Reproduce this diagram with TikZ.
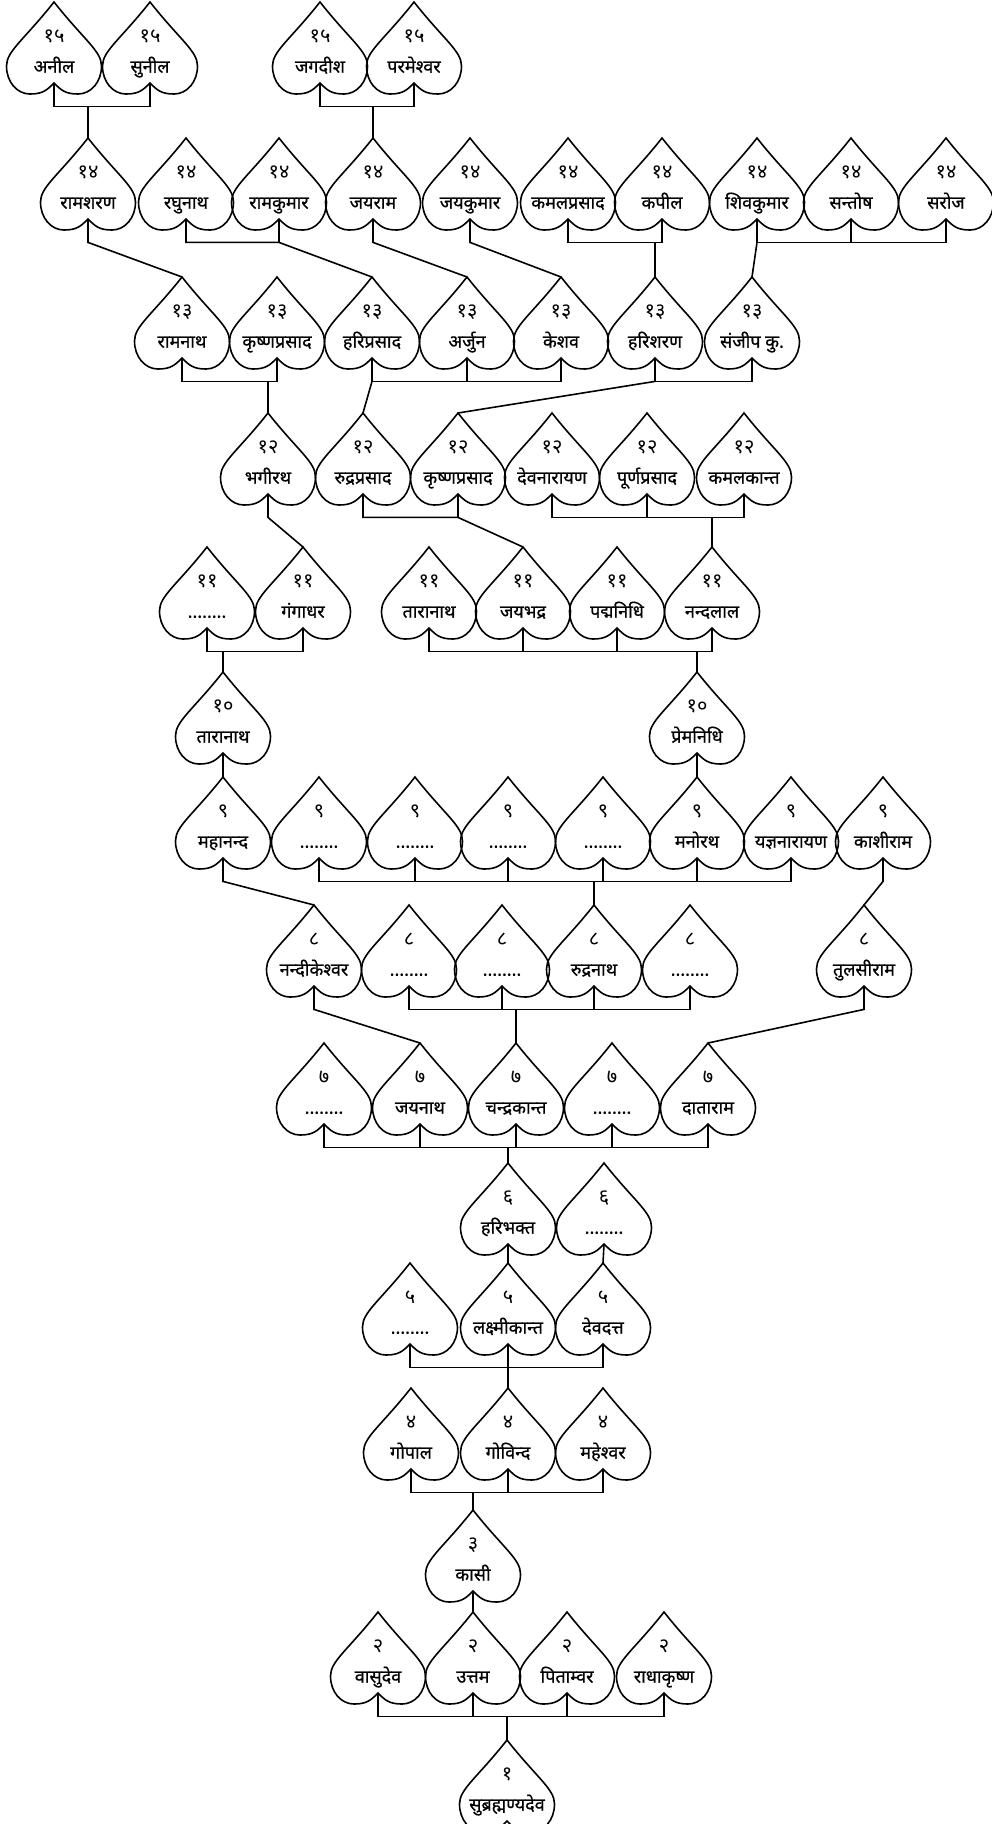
\documentclass[tikz,border=0pt]{standalone}
\usepackage{fontspec}
\newfontfamily\deva[Script=Devanagari, FakeBold=0.6]{Noto Sans}
\newfontfamily\devn[Script=Devanagari]{Noto Sans}
\usetikzlibrary{calc}
\newcommand\gen[1]{{\devn\fontsize{20}{20}\selectfont#1}}
\newcommand\blank{........}
\tikzset{link/.style={line width=1.6pt},
  leaf/.style={minimum width=95pt, minimum height=81pt, inner sep=0pt, anchor=north,
    align=center, font=\deva\fontsize{18}{30}\selectfont, text height=60pt, text depth=0pt,
    append after command={\pgfextra{\pgfinterruptpath
      \draw[link] (\tikzlastnode.north)
        .. controls +(-30,38) and +(0,-15) .. ++(-47.5,64)
        .. controls +(0,16) and +(-13,0) .. ++(23.5,28)
        .. controls +(13,0) and +(-7,7) .. ++(24,-11)
        .. controls +(7,7) and +(-13,0) .. ++(24,11)
        .. controls +(13,0) and +(0,16) .. ++(23.5,-28)
        .. controls +(0,-15) and +(30,38) .. ++(-47.5,-64) -- cycle;
      \endpgfinterruptpath}}}}

\begin{document}
\begin{tikzpicture}[x=1pt, y=-1pt]
  \useasboundingbox (0,0) rectangle (992,1824);
  % generations, top to bottom
  \foreach \x/\n/\t in {54/anil/अनील, 150/sunil/सुनील, 320/jagdish/जगदीश, 414/parmesh/परमेश्वर}
    \node[leaf] (\n) at (\x,2) {\gen{१५}\\\t};
  \foreach \x/\n/\t in {88/ramshar/रामशरण, 186/raghu/रघुनाथ, 279/ramkum/रामकुमार, 373/jayram/जयराम,
      470/jaykum/जयकुमार, 568/kamalpr/कमलप्रसाद, 662/kapil/कपील, 757/shivkum/शिवकुमार,
      851/santosh/सन्तोष, 946/saroj/सरोज}
    \node[leaf] (\n) at (\x,138) {\gen{१४}\\\t};
  \foreach \x/\n/\t in {182/ramnath/रामनाथ, 277/krishpa/कृष्णप्रसाद, 372/haripr/हरिप्रसाद,
      467/arjun/अर्जुन, 561/keshav/केशव, 655/harishar/हरिशरण, 752/sanjeep/संजीप कु.}
    \node[leaf] (\n) at (\x,277) {\gen{१३}\\\t};
  \foreach \x/\n/\t in {268/bhagi/भगीरथ, 363/rudrapr/रुद्रप्रसाद, 458/krishpb/कृष्णप्रसाद,
      552/devnar/देवनारायण, 647/purnapr/पूर्णप्रसाद, 744/kamalk/कमलकान्त}
    \node[leaf] (\n) at (\x,413) {\gen{१२}\\\t};
  \foreach \x/\n/\t in {207/dotsk/\blank, 303/ganga/गंगाधर, 429/taraa/तारानाथ, 523/jaybh/जयभद्र,
      617/padma/पद्मनिधि, 712/nand/नन्दलाल}
    \node[leaf] (\n) at (\x,547) {\gen{११}\\\t};
  \foreach \x/\n/\t in {223/tarab/तारानाथ, 697/prem/प्रेमनिधि}
    \node[leaf] (\n) at (\x,672) {\gen{१०}\\\t};
  \foreach \x/\n/\t in {223/mahan/महानन्द, 319/dotsia/\blank, 415/dotsib/\blank, 508/dotsic/\blank,
      603/dotsid/\blank, 697/manor/मनोरथ, 791/yagya/यज्ञनारायण, 883/kashi/काशीराम}
    \node[leaf] (\n) at (\x,777) {\gen{९}\\\t};
  \foreach \x/\n/\t in {314/nandik/नन्दीकेश्वर, 409/dotsha/\blank, 502/dotshb/\blank,
      594/rudran/रुद्रनाथ, 690/dotshc/\blank, 864/tulsi/तुलसीराम}
    \node[leaf] (\n) at (\x,905) {\gen{८}\\\t};
  \foreach \x/\n/\t in {324/dotsga/\blank, 420/jaynath/जयनाथ, 516/chandra/चन्द्रकान्त,
      612/dotsgb/\blank, 708/data/दाताराम}
    \node[leaf] (\n) at (\x,1043) {\gen{७}\\\t};
  \foreach \x/\n/\t in {508/haribh/हरिभक्त, 604/dotsf/\blank}
    \node[leaf] (\n) at (\x,1163) {\gen{६}\\\t};
  \foreach \x/\n/\t in {410/dotse/\blank, 508/laxmi/लक्ष्मीकान्त, 603/devdatt/देवदत्त}
    \node[leaf] (\n) at (\x,1263) {\gen{५}\\\t};
  \foreach \x/\n/\t in {411/gopal/गोपाल, 508/govind/गोविन्द, 603/mahesh/महेश्वर}
    \node[leaf] (\n) at (\x,1388) {\gen{४}\\\t};
  \node[leaf] (kasi) at (473,1510) {\gen{३}\\कासी};
  \foreach \x/\n/\t in {378/vasu/वासुदेव, 473/uttam/उत्तम, 567/pitam/पिताम्वर, 664/radha/राधाकृष्ण}
    \node[leaf] (\n) at (\x,1612) {\gen{२}\\\t};
  \node[leaf] (subra) at (507,1740) {\gen{१}\\सुब्रह्मण्यदेव};

  % 15 -> 14
  \draw[link] (anil.south) -- ++(0,23) coordinate (g15a) -| (sunil.south);
  \draw[link] (g15a -| ramshar) -- (ramshar.north);
  \draw[link] (jagdish.south) -- ++(0,23) coordinate (g15b) -| (parmesh.south);
  \draw[link] (g15b -| jayram) -- (jayram.north);
  % 14 -> 13
  \draw[link] (ramshar.south) -- ++(0,23) -- (ramnath.north);
  \draw[link] (raghu.south) -- ++(0,23) -| (ramkum.south) ++(0,23) -- (haripr.north);
  \draw[link] (jayram.south) -- ++(0,23) -- (arjun.north);
  \draw[link] (jaykum.south) -- ++(0,23) -- (keshav.north);
  \draw[link] (kamalpr.south) -- ++(0,23) coordinate (g14a) -| (kapil.south);
  \draw[link] (g14a -| harishar) -- (harishar.north);
  \draw[link] (shivkum.south) -- ++(0,23) -| (saroj.south);
  \draw[link] (santosh.south) -- ++(0,23);
  \draw[link] (shivkum.south) ++(0,23) -- (sanjeep.north);
  % 13 -> 12
  \draw[link] (ramnath.south) -- ++(0,23) coordinate (g13a) -| (krishpa.south);
  \draw[link] (g13a -| bhagi) -- (bhagi.north);
  \draw[link] (haripr.south) -- ++(0,23) -| (keshav.south);
  \draw[link] (arjun.south) -- ++(0,23);
  \draw[link] (haripr.south) ++(0,23) -- (rudrapr.north);
  \draw[link] (harishar.south) -- ++(0,23) -| (sanjeep.south);
  \draw[link] (harishar.south) ++(0,23) -- (krishpb.north);
  % 12 -> 11
  \draw[link] (bhagi.south) -- ++(0,23) -- (ganga.north);
  \draw[link] (rudrapr.south) -- ++(0,23) -| (krishpb.south) ++(0,23) -- (jaybh.north);
  \draw[link] (devnar.south) -- ++(0,23) coordinate (g12a) -| (kamalk.south);
  \draw[link] (purnapr.south) -- ++(0,23);
  \draw[link] (g12a -| nand) -- (nand.north);
  % 11 -> 10
  \draw[link] (dotsk.south) -- ++(0,23) coordinate (g11a) -| (ganga.south);
  \draw[link] (g11a -| tarab) -- (tarab.north);
  \draw[link] (taraa.south) -- ++(0,23) coordinate (g11b) -| (nand.south);
  \foreach \n in {jaybh,padma} \draw[link] (\n.south) -- ++(0,23);
  \draw[link] (g11b -| prem) -- (prem.north);
  % 10 -> 9
  \draw[link] (tarab.south) -- (mahan.north);
  \draw[link] (prem.south) -- (manor.north);
  % 9 -> 8
  \draw[link] (mahan.south) -- ++(0,23) -- (nandik.north);
  \draw[link] (dotsia.south) -- ++(0,23) coordinate (g9a) -| (yagya.south);
  \foreach \n in {dotsib,dotsic,dotsid,manor} \draw[link] (\n.south) -- ++(0,23);
  \draw[link] (g9a -| rudran) -- (rudran.north);
  \draw[link] (kashi.south) -- ++(0,23) -- (tulsi.north);
  % 8 -> 7
  \draw[link] (nandik.south) -- ++(0,23) -- (jaynath.north);
  \draw[link] (dotsha.south) -- ++(0,23) coordinate (g8a) -| (dotshc.south);
  \foreach \n in {dotshb,rudran} \draw[link] (\n.south) -- ++(0,23);
  \draw[link] (g8a -| chandra) -- (chandra.north);
  \draw[link] (tulsi.south) -- ++(0,23) -- (data.north);
  % 7 -> 6
  \draw[link] (dotsga.south) -- ++(0,23) coordinate (g7a) -| (data.south);
  \foreach \n in {jaynath,chandra,dotsgb} \draw[link] (\n.south) -- ++(0,23);
  \draw[link] (g7a -| haribh) -- (haribh.north);
  % 6 -> 5
  \draw[link] (haribh.south) -- (laxmi.north);
  \draw[link] (dotsf.south) -- (devdatt.north);
  % 5 -> 4
  \draw[link] (dotse.south) -- ++(0,23) -| (devdatt.south);
  \draw[link] (laxmi.south) -- (govind.north);
  % 4 -> 3
  \draw[link] (gopal.south) -- ++(0,23) coordinate (g4a) -| (mahesh.south);
  \draw[link] (govind.south) -- ++(0,23);
  \draw[link] (g4a -| kasi) -- (kasi.north);
  % 3 -> 2
  \draw[link] (kasi.south) -- (uttam.north);
  % 2 -> 1
  \draw[link] (vasu.south) -- ++(0,23) coordinate (g2a) -| (radha.south);
  \foreach \n in {uttam,pitam} \draw[link] (\n.south) -- ++(0,23);
  \draw[link] (g2a -| subra) -- (subra.north);
\end{tikzpicture}
\end{document}
